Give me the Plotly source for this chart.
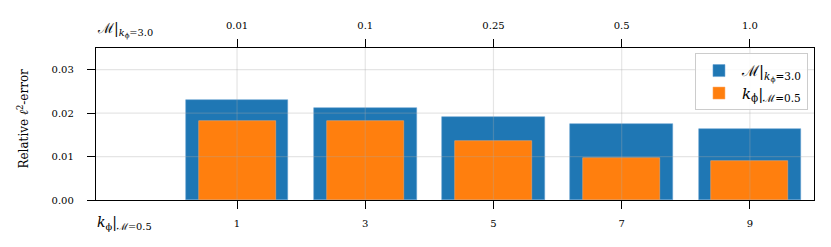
import plotly.graph_objects as go

# ---- data ----
k_phi = [1, 3, 5, 7, 9]                       # bottom axis categories
m_labels = ["0.01", "0.1", "0.25", "0.5", "1.0"]  # top axis tick labels
err_M = [0.0230, 0.0213, 0.0190, 0.0176, 0.0163]   # M | k_phi=3.0
err_k = [0.0182, 0.0182, 0.0136, 0.0097, 0.0090]   # k_phi | M=0.5
y_ticks = [0.0, 0.01, 0.02, 0.03]

BLUE = "#1f77b4"
ORANGE = "#ff7f0e"
FONT = "DejaVu Serif"

name_M = "ℳ|<sub><i>k</i><sub>ϕ</sub>=3.0</sub>"
name_k = "<i>k</i><sub>ϕ</sub>|<sub>ℳ=0.5</sub>"

fig = go.Figure()
fig.add_trace(go.Bar(x=k_phi, y=err_M, width=1.6, name=name_M,
                     marker=dict(color=BLUE, line=dict(color="rgba(100,160,210,0.9)", width=0.6))))
fig.add_trace(go.Bar(x=k_phi, y=err_k, width=1.2, name=name_k,
                     marker=dict(color=ORANGE, line=dict(color="rgba(255,170,100,0.9)", width=0.6))))
# invisible trace to anchor the top axis
fig.add_trace(go.Scatter(x=k_phi, y=err_k, xaxis="x2", mode="markers",
                         marker=dict(opacity=0), showlegend=False, hoverinfo="skip"))

xr = [-1.2, 10.0]
common_axis = dict(showline=True, linecolor="black", linewidth=1.3,
                   ticks="outside", ticklen=8, tickwidth=1.2, tickcolor="black",
                   showgrid=False, zeroline=False, automargin=False,
                   tickfont=dict(family=FONT, size=10, color="black"))

# page body has an 8px margin: figure is sized so that page is exactly 831x247
fig.update_layout(
    width=815, height=231,
    margin=dict(l=88, r=9, t=40, b=39, autoexpand=False),
    paper_bgcolor="white", plot_bgcolor="white",
    barmode="overlay", bargap=0,
    font=dict(family=FONT, size=10, color="black"),
    xaxis=dict(range=xr, tickvals=k_phi, ticktext=[str(v) for v in k_phi],
               mirror=True, ticklabelstandoff=6, **common_axis),
    xaxis2=dict(range=xr, overlaying="x", side="top", anchor="y",
                tickvals=k_phi, ticktext=m_labels, ticklabelstandoff=6, **common_axis),
    yaxis=dict(range=[0, 0.035], tickvals=y_ticks, tickformat=".2f", mirror=True,
               ticklabelstandoff=11, **common_axis),
    legend=dict(x=0.9916, xanchor="right", y=0.965, yanchor="top",
                bgcolor="rgba(255,255,255,0.85)", bordercolor="#cccccc", borderwidth=1,
                font=dict(family=FONT, size=15), itemwidth=36),
    showlegend=True,
)

# grid lines drawn over bars (semi-transparent)
shapes = []
for v in k_phi:
    shapes.append(dict(type="line", xref="x", yref="y domain", x0=v, x1=v, y0=0, y1=1,
                       line=dict(color="rgba(170,170,170,0.3)", width=1.2), layer="above"))
for v in y_ticks[1:]:
    shapes.append(dict(type="line", xref="x domain", yref="y", x0=0, x1=1, y0=v, y1=v,
                       line=dict(color="rgba(170,170,170,0.3)", width=1.2), layer="above"))
fig.update_layout(shapes=shapes)

fig.add_annotation(text=name_M, xref="paper", yref="paper", x=-0.002, y=1.12,
                   xanchor="left", yanchor="middle", showarrow=False,
                   font=dict(family=FONT, size=14))
fig.add_annotation(text=name_k, xref="paper", yref="paper", x=-0.002, y=-0.15,
                   xanchor="left", yanchor="middle", showarrow=False,
                   font=dict(family=FONT, size=14))
fig.add_annotation(text="Relative <i>ℓ</i><sup>2</sup>-error", xref="paper", yref="paper",
                   x=-0.103, y=0.536, xanchor="center", yanchor="middle", textangle=-90,
                   showarrow=False, font=dict(family=FONT, size=12))

fig.write_html("out.html")
